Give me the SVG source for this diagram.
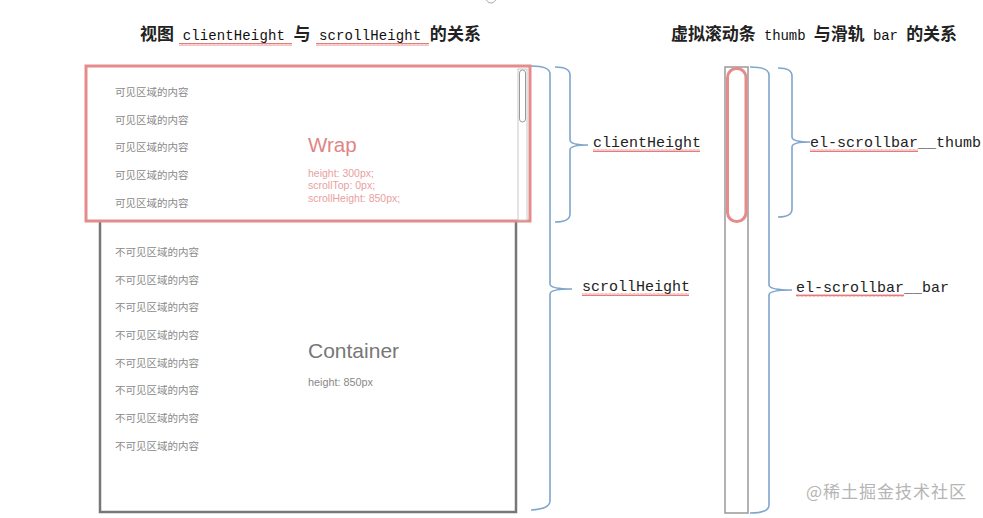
<svg xmlns="http://www.w3.org/2000/svg" width="983" height="518" viewBox="0 0 983 518">
<style>
.title{font-family:"Noto Sans CJK SC","Liberation Sans",sans-serif;font-weight:bold;font-size:17px;fill:#222}
.tl{font-family:"Liberation Mono","Noto Sans CJK SC",monospace;font-size:14px;font-weight:normal;fill:#111}
.lab{font-family:"Liberation Mono","Noto Sans CJK SC",monospace;font-size:15px;fill:#222}
.item{font-family:"Noto Sans CJK SC",sans-serif;font-size:10.5px;fill:#8a8a8a}
.brace{fill:none;stroke:#7fa6cc;stroke-width:1.6}
.wavy{fill:url(#wave)}
</style>
<defs>
<pattern id="wave" width="4" height="3" patternUnits="userSpaceOnUse">
<path d="M0,2.5 L1,0.5 L2,2.5 L3,0.5 L4,2.5" fill="none" stroke="#e04040" stroke-width="0.7"/>
</pattern>
</defs>
<rect width="983" height="518" fill="#fff"/>
<circle cx="491" cy="-2" r="5" fill="none" stroke="#aaa" stroke-width="1"/>

<g id="titles">
<text class="title" x="140" y="40" textLength="341">视图<tspan class="tl"> clientHeight </tspan>与<tspan class="tl"> scrollHeight </tspan>的关系</text>
<rect class="wavy" x="179" y="43" width="113" height="3"/>
<rect class="wavy" x="316" y="43" width="113" height="3"/>
<text class="title" x="671" y="40" textLength="286">虚拟滚动条<tspan class="tl"> thumb </tspan>与滑轨<tspan class="tl"> bar </tspan>的关系</text>
</g>

<g id="container">
<rect x="100" y="220" width="416" height="292" fill="#fff" stroke="#777" stroke-width="2.5"/>
<text class="item" x="115" y="256">不可见区域的内容</text>
<text class="item" x="115" y="284">不可见区域的内容</text>
<text class="item" x="115" y="311">不可见区域的内容</text>
<text class="item" x="115" y="339">不可见区域的内容</text>
<text class="item" x="115" y="367">不可见区域的内容</text>
<text class="item" x="115" y="394">不可见区域的内容</text>
<text class="item" x="115" y="422">不可见区域的内容</text>
<text class="item" x="115" y="450">不可见区域的内容</text>
<text x="308" y="358" font-family="Liberation Sans,Arial,sans-serif" font-size="21" fill="#777">Container</text>
<text x="308" y="386" font-family="Liberation Sans,Arial,sans-serif" font-size="10.8" fill="#888">height: 850px</text>
</g>

<g id="wrap">
<rect x="86" y="66" width="444" height="155" fill="#fff" stroke="#e58b8b" stroke-width="3"/>
<rect x="518" y="69" width="9" height="151" fill="#fff" stroke="#c8c8c8" stroke-width="1"/>
<rect x="519.5" y="70" width="6" height="52" rx="3" fill="#fff" stroke="#999" stroke-width="1"/>
<text class="item" x="115" y="96">可见区域的内容</text>
<text class="item" x="115" y="124">可见区域的内容</text>
<text class="item" x="115" y="151">可见区域的内容</text>
<text class="item" x="115" y="179">可见区域的内容</text>
<text class="item" x="115" y="207">可见区域的内容</text>
<text x="308" y="152" font-family="Liberation Sans,Arial,sans-serif" font-size="20.5" fill="#e08585">Wrap</text>
<g font-family="Liberation Sans,Arial,sans-serif" font-size="10.5" fill="#eaa0a0">
<text x="308" y="177">height: 300px;</text>
<text x="308" y="189">scrollTop: 0px;</text>
<text x="308" y="202">scrollHeight: 850px;</text>
</g>
</g>

<g id="scrollbar">
<rect x="725" y="67" width="23" height="446" fill="#fff" stroke="#999" stroke-width="1.5"/>
<rect x="727.5" y="68.5" width="18.5" height="153" rx="9" fill="#fff" stroke="#e58b8b" stroke-width="3"/>
</g>

<g id="connectors">
<path class="brace" d="M555,67 Q570,67 570,75 L570,140 Q570,145 588,145 Q570,145 570,150 L570,214 Q570,222 555,222"/>
<path class="brace" d="M531,66 Q550,66 550,74 L550,284 Q550,289 572,289 Q550,289 550,294 L550,501 Q550,509 531,510"/>
<path class="brace" d="M778,68 Q792,68 792,76 L792,137 Q792,142 810,142 Q792,142 792,147 L792,209 Q792,217 778,217"/>
<path class="brace" d="M750,67 Q769,67 769,75 L769,285 Q769,290 792,290 Q769,290 769,295 L769,505 Q769,513 750,513"/>
</g>

<g id="labels">
<text class="lab" x="593" y="147">clientHeight</text>
<rect class="wavy" x="593" y="149" width="107" height="3"/>
<text class="lab" x="582" y="291">scrollHeight</text>
<rect class="wavy" x="582" y="293" width="107" height="3"/>
<text class="lab" x="810" y="147">el-scrollbar__thumb</text>
<rect class="wavy" x="810" y="149" width="108" height="3"/>
<text class="lab" x="796" y="292">el-scrollbar__bar</text>
<rect class="wavy" x="796" y="294" width="108" height="3"/>
</g>

<text x="806" y="498" font-family="Noto Sans CJK SC,sans-serif" font-size="17" fill="#b5b5b5" textLength="160">@稀土掘金技术社区</text>
</svg>
